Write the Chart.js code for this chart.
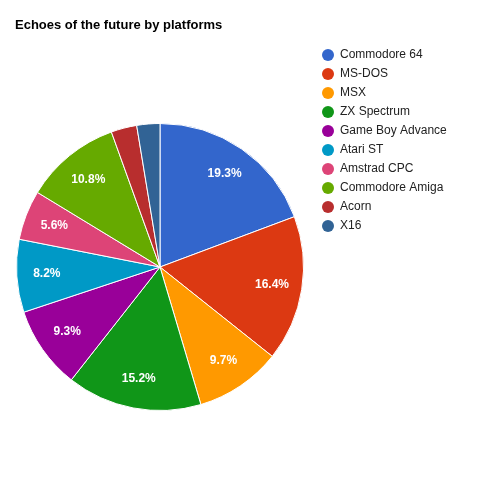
<!DOCTYPE html>
<html>
<head>
<meta charset="utf-8">
<script src="https://cdn.jsdelivr.net/npm/chart.js@4/dist/chart.umd.min.js"></script>
<style>
  html, body { margin: 0; padding: 0; background: #fff; }
  #wrap { width: 483px; height: 483px; }
</style>
</head>
<body>
<div id="wrap"><canvas id="myChart" width="483" height="483"></canvas></div>
<script>
const platforms = ["Commodore 64", "MS-DOS", "MSX", "ZX Spectrum", "Game Boy Advance",
  "Atari ST", "Amstrad CPC", "Commodore Amiga", "Acorn", "X16"];
const shares = [19.3, 16.4, 9.7, 15.2, 9.3, 8.2, 5.6, 10.8, 2.9, 2.6];
const colors = ["#3366cc", "#dc3912", "#ff9900", "#109618", "#990099",
  "#0099c6", "#dd4477", "#66aa00", "#b82e2e", "#316395"];
const chartTitle = "Echoes of the future by platforms";

// title, legend and slice labels drawn by hand, google-charts style
const decor = {
  id: 'decor',
  afterDraw(chart) {
    const ctx = chart.ctx;
    ctx.save();
    ctx.fillStyle = '#000';
    ctx.font = 'bold 13px Arial, "Liberation Sans", sans-serif';
    ctx.textBaseline = 'alphabetic';
    ctx.textAlign = 'left';
    ctx.fillText(chartTitle, 15, 29);

    ctx.font = '12px Arial, "Liberation Sans", sans-serif';
    ctx.textBaseline = 'middle';
    platforms.forEach((p, i) => {
      const y = 55 + i * 19;
      ctx.fillStyle = colors[i];
      ctx.beginPath();
      ctx.arc(328, y, 6, 0, Math.PI * 2);
      ctx.fill();
      ctx.fillStyle = '#222';
      ctx.fillText(p, 340, y);
    });

    const total = shares.reduce((a, b) => a + b, 0);
    const meta = chart.getDatasetMeta(0);
    ctx.fillStyle = '#fff';
    ctx.font = 'bold 12px Arial, "Liberation Sans", sans-serif';
    ctx.textAlign = 'center';
    meta.data.forEach((arc, i) => {
      const pct = shares[i] / total * 100;
      if (pct < 5) return;
      const mid = (arc.startAngle + arc.endAngle) / 2;
      const d = arc.outerRadius * 0.79;
      ctx.fillText(pct.toFixed(1) + '%', arc.x + Math.cos(mid) * d, arc.y + Math.sin(mid) * d);
    });
    ctx.restore();
  }
};

new Chart(document.getElementById('myChart').getContext('2d'), {
  type: 'pie',
  data: {
    labels: platforms,
    datasets: [{
      data: shares,
      backgroundColor: colors,
      borderColor: '#fff',
      borderWidth: 1
    }]
  },
  options: {
    responsive: false,
    animation: false,
    layout: { padding: { left: 16, top: 123, right: 179, bottom: 72 } },
    plugins: {
      legend: { display: false },
      title: { display: false },
      tooltip: { enabled: false }
    }
  },
  plugins: [decor]
});
</script>
</body>
</html>
